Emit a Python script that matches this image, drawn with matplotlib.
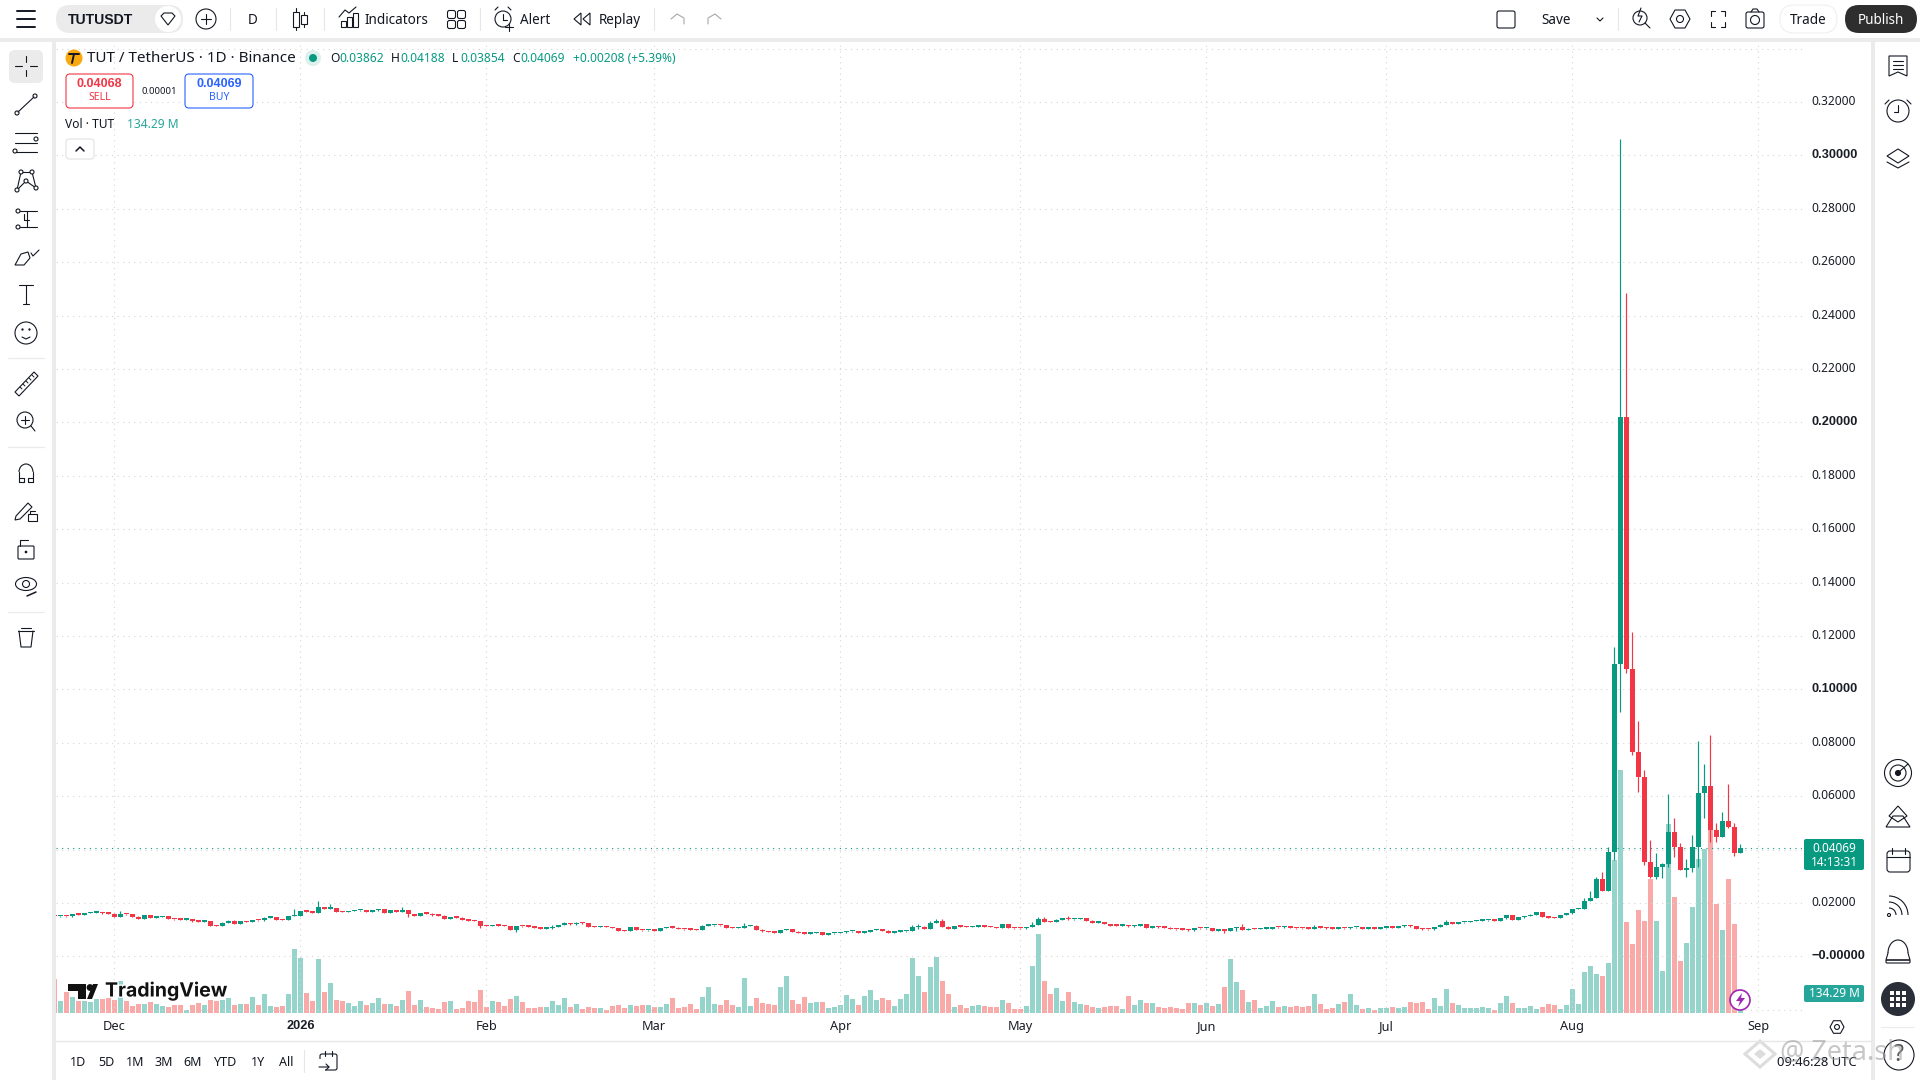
import numpy as np
import pandas as pd
import matplotlib
matplotlib.use("Agg")
import matplotlib.pyplot as plt
import matplotlib.dates as mdates
import matplotlib.patheffects as pe
from matplotlib.patches import Rectangle, Circle, FancyBboxPatch, Polygon, Arc, Ellipse
from matplotlib.transforms import ScaledTranslation

plt.rcParams['font.family'] = ['Noto Sans', 'DejaVu Sans']
BOLD = 'Liberation Sans'

# ---------------- data ----------------
dates = pd.date_range('2025-11-21', '2026-08-29', freq='D')

closes = [
 .01498,.01511,.01498,.01585,.01561,.01623,.01635,.01660,.01610,.01598,
 .01486,.01585,.01573,.01486,.01411,.01536,.01448,.01473,.01511,.01398,
 .01386,.01373,.01398,.01311,.01298,.01311,.01149,.01136,.01261,.01336,
 .01223,.01311,.01286,.01361,.01348,.01448,.01461,.01373,.01361,.01511,
 .01523,.01685,.01673,.01635,.01835,.01785,.01810,.01673,.01660,.01698,
 .01723,.01735,.01673,.01723,.01760,.01635,.01723,.01673,.01723,.01585,
 .01523,.01610,.01598,.01536,.01523,.01411,.01461,.01448,.01373,.01336,
 .01323,.01149,.01136,.01161,.01149,
 .01136,.00986,.01136,.01124,.01111,.01074,.01036,.01049,.01099,.01174,
 .01236,.01198,.01261,.01236,.01111,.01099,.01111,.01099,.01061,.00961,
 .00949,.01086,.00986,.00974,.00986,.00961,.01061,.01099,.01074,.01024,
 .01011,.00999,.00986,.01149,.01161,.01174,.01161,.01074,.01061,.01074,
 .01136,.01149,.00999,.00936,.00911,.00886,.00986,.01024,.00924,.00874,
 .00849,.00874,.00911,.00799,.00861,.00874,.00899,.00936,.00949,.00886,
 .00911,.00986,.00999,.00961,.00886,.00924,.00936,.00949,.01099,.01111,
 .01024,.01248,.01311,.01111,.01024,.01124,.01111,.01099,.01111,.01124,
 .01111,.01099,.01061,
 .01198,.01061,.01055,.01049,.01099,.01186,.01386,.01298,.01286,.01373,
 .01411,.01386,.01398,.01423,.01336,.01261,.01286,.01211,.01149,.01142,
 .01161,.01124,.01149,.01211,.01074,.01111,.01086,.01074,.01024,.01017,
 .00999,.00974,.01061,.01049,.01061,.00961,.00974,.00961,.01061,.01086,
 .00986,.01036,.01024,.01030,.01036,.01099,.01086,.01124,.01061,.01049,
 .01042,.01036,.01099,.01074,.01049,.01036,.01061,.01049,.01086,.01099,
 .01036,.01049,.01036,.01074,.01086,.01074,.01124,.01149,.01124,.01036,
 .01011,.01005,.01099,.01186,.01286,.01211,.01273,.01286,.01323,.01336,
 .01348,.01361,.01336,.01423,
 .01548,.01373,.01461,.01511,.01561,.01648,.01486,.01448,.01436,.01548,
 .01610,.01773,.01785,.02072,.02185,.02896,.02459,.03908,.10948,.20200,
 .10774,.07653,.06729,.03545,.02959,.03346,.03458,.04657,.04082,.03233,
 .03308,.04095,.06117,.06379,.04731,.04469,.05069,.04844,.03862,.04069,
]
volumes_m = [
 231,83,143,108,85,83,76,96,96,101,90,217,83,49,63,63,76,63,49,43,
 56,56,22,56,69,56,87,83,90,103,56,63,63,110,56,130,49,43,49,130,
 432,372,137,83,365,143,204,90,83,69,49,83,56,69,103,63,63,49,90,150,
 56,90,43,36,29,76,83,29,36,83,76,157,43,83,76,
 49,96,116,76,36,36,43,43,83,56,103,43,63,29,43,36,36,22,49,56,
 36,56,49,56,56,43,43,63,103,36,43,63,29,110,177,63,56,90,56,43,
 237,49,103,69,63,56,177,251,90,63,110,69,76,76,36,43,56,123,96,56,
 116,157,90,103,90,49,96,130,372,251,143,311,379,217,130,43,56,36,49,56,
 49,43,43,
 90,69,29,29,49,318,533,217,130,170,83,143,76,63,56,43,36,43,49,49,
 29,116,56,90,69,69,43,36,43,36,29,69,69,56,69,49,63,177,365,211,
 157,76,90,36,49,83,43,49,43,49,43,49,130,63,29,36,63,76,130,56,
 29,36,22,36,36,43,36,43,76,69,76,29,103,49,164,69,56,36,36,36,
 43,36,22,69,
 114,67,34,34,47,27,40,60,54,27,54,161,60,276,316,262,249,336,1028,1633,
 612,464,692,618,900,618,282,1270,780,349,470,712,1035,1102,1230,732,558,900,598,134.29,
]
# notable wick ends, keyed by day offset from 2026-01-01
high_marks = {-30:.01698,-1:.01760,3:.02072,5:.01947,17:.01835,36:.01136,42:.01174,44:.01286,
 68:.01211,74:.01248,102:.01174,103:.01211,105:.01323,106:.01398,107:.01398,
 122:.01286,123:.01473,124:.01473,128:.01510,157:.01211,169:.01174,191:.01361,
 214:.02172,215:.02447,216:.02984,217:.03146,218:.04107,219:.11573,220:.30610,221:.24850,
 222:.12135,223:.08814,224:.06979,225:.04357,226:.03858,227:.03483,228:.06080,229:.05181,
 230:.04232,231:.03645,232:.04544,233:.08065,234:.07203,235:.08289,236:.04981,237:.05406,
 238:.06454,239:.04981,240:.04188}
low_marks = {18:.01486,30:.01074,36:.00924,103:.01024,154:.00886,156:.00961,
 219:.03608,220:.09163,221:.10624,222:.07540,223:.06155,224:.03421,225:.02921,226:.02896,
 227:.02921,228:.03358,229:.03733,231:.02984,232:.03171,233:.03358,234:.05181,235:.04295,
 236:.04282,238:.04806,239:.03758,240:.03854}
price_ticks = [round(-0.02 + 0.02*i, 2) for i in range(19)]
month_starts = ['2025-12-01','2026-01-01','2026-02-01','2026-03-01','2026-04-01','2026-05-01',
                '2026-06-01','2026-07-01','2026-08-01','2026-09-01']
month_labels = ['Dec','2026','Feb','Mar','Apr','May','Jun','Jul','Aug','Sep']
last_price = 0.04069

assert len(closes) == len(dates) == len(volumes_m)

GREEN, RED = '#089981', '#F23645'
VGREEN, VRED = '#94D4CB', '#F9A9A7'
INK = '#131722'
W, H = 1920, 1080

# ---------------- figure and chart ----------------
fig = plt.figure(figsize=(19.2, 10.8), dpi=100, facecolor='white')
L, R, T, B = 56, 1802, 40, 1013.3
rect = [L/W, 1-B/H, (R-L)/W, (B-T)/H]
vax = fig.add_axes(rect, zorder=1, facecolor='white')
ax = fig.add_axes(rect, zorder=2, facecolor='none')

x = mdates.date2num(dates)
c = np.array(closes)
o = np.r_[c[0], c[:-1]]
o[0] = .01511
up = c >= o
day0 = mdates.date2num(pd.Timestamp('2026-01-01'))
hi = np.maximum(o, c) + 0.00015
lo = np.minimum(o, c) - 0.00015
for d, v in high_marks.items():
    hi[int(day0 + d - x[0])] = v
for d, v in low_marks.items():
    lo[int(day0 + d - x[0])] = v
col = np.where(up, GREEN, RED)

xlim = (day0 + (L-300.3)/6, day0 + (R-300.3)/6)
vax.bar(x, volumes_m, width=0.84, color=np.where(up, VGREEN, VRED), linewidth=0)
vax.set_xlim(*xlim)
vax.set_ylim(0, 6536)
vax.axis('off')

ax.vlines(x, lo, hi, colors=col, linewidth=0.85, zorder=3)
ax.bar(x, np.maximum(np.abs(c-o), 0.0005), bottom=np.minimum(o, c), width=0.84,
       color=col, linewidth=0, zorder=4)
ax.axhline(last_price, color=GREEN, lw=0.8, ls=(0, (1, 4)), zorder=2)

ax.set_xlim(*xlim)
ax.set_ylim((956.3-B)/2670, (956.3-T)/2670)
for s in ax.spines.values():
    s.set_visible(False)
ax.set_axisbelow(True)
ax.grid(True, color='#D6D6D6', lw=0.8, ls=(0, (1, 4)))
ax.yaxis.tick_right()
ax.set_yticks(price_ticks)
ylabels = []
for t in price_ticks:
    if t in (-0.02, 0.34):
        ylabels.append('')
    elif t == 0:
        ylabels.append('\u22120.00000')
    else:
        ylabels.append(f'{t:.5f}')
ax.set_yticklabels(ylabels, fontsize=8.6, color='#1a1d26')
ax.tick_params(axis='y', length=0, pad=6.5)
lift = ScaledTranslation(0, 2/100, fig.dpi_scale_trans)
for t, lab in zip(price_ticks, ax.get_yticklabels()):
    lab.set_transform(lab.get_transform() + lift)
    if t in (0, 0.10, 0.20, 0.30):
        lab.set_fontweight('bold')
        lab.set_fontfamily(BOLD)
        lab.set_fontsize(9.2)
ax.set_xticks(mdates.date2num(pd.to_datetime(month_starts)))
ax.set_xticklabels(month_labels, fontsize=9.2, color='#1a1d26')
ax.get_xticklabels()[1].set_fontweight('bold')
ax.get_xticklabels()[1].set_fontfamily(BOLD)
ax.tick_params(axis='x', length=0, pad=5)

# ---------------- interface overlay, in screen pixels ----------------
ui = fig.add_axes([0, 0, 1, 1], zorder=5, facecolor='none')
ui.set_xlim(0, W); ui.set_ylim(H, 0); ui.axis('off')

def px(s):
    return s*0.72
def txt(xp, yp, s, size=13, color=INK, ha='left', weight='normal', **kw):
    return ui.text(xp, yp+1, s, fontsize=px(size), color=color, ha=ha, va='center', fontweight=weight, **kw)
def line(xs, ys, lw=0.8, color=INK, **kw):
    ui.plot(xs, ys, color=color, lw=lw, solid_capstyle='round', zorder=5, **kw)
def box(x0, y0, w, h, fc='white', ec='none', lw=0.8, r=0, z=1):
    if r:
        p = FancyBboxPatch((x0+r, y0+r), w-2*r, h-2*r, boxstyle=f'round,pad={r},rounding_size={r}',
                           fc=fc, ec=ec, lw=lw, zorder=z)
    else:
        p = Rectangle((x0, y0), w, h, fc=fc, ec=ec, lw=lw, zorder=z)
    ui.add_patch(p)
def circ(xp, yp, r, fc='none', ec=INK, lw=0.8, z=3):
    ui.add_patch(Circle((xp, yp), r, fc=fc, ec=ec, lw=lw, zorder=z))
def poly(pts, fc='none', ec=INK, lw=0.8, z=3):
    ui.add_patch(Polygon(pts, closed=True, fc=fc, ec=ec, lw=lw, zorder=z))
def hexagon(cx, cy, r):
    poly([(cx-r, cy), (cx-r/2, cy-r*.9), (cx+r/2, cy-r*.9), (cx+r, cy), (cx+r/2, cy+r*.9), (cx-r/2, cy+r*.9)])
    circ(cx, cy, r*.35)

GRAY = '#EBEBEB'
box(0, 38, W, 4, fc=GRAY)
box(52, 38, 4, H-38, fc=GRAY)
box(1871, 38, 4, H-38, fc=GRAY)
line([56, 1871], [1041, 1041], color='#E6E6E6', lw=1.0)

# top bar
for yy in (11, 19, 27):
    line([17, 35], [yy, yy], lw=1.4)
box(56, 5, 127, 28, fc='#EBEBEB', r=14)
txt(68, 19, 'TUTUSDT', 14, weight='bold', family=BOLD, zorder=4)
circ(168, 19, 13, fc='white', ec='none')
poly([(161, 16), (164, 13), (172, 13), (175, 16), (168, 25)])
circ(206, 19, 10)
line([201, 211], [19, 19]); line([206, 206], [14, 24])
for sx in (230, 276, 324, 480, 654, 1618):
    line([sx, sx], [8, 30], color='#E6E6E6')
txt(253, 19, 'D', 13.5, ha='center')
line([296, 296], [8, 30]); box(293, 12, 6, 15, fc='white', ec=INK, z=6)
line([304, 304], [12, 27]); box(301, 15, 6, 9, fc='white', ec=INK, z=6)
for bx, bh in ((341, 6), (347, 10), (353, 14)):
    box(bx, 27-bh, 5, bh, ec=INK, z=3)
line([339, 345, 349, 356], [17, 10, 13, 7])
txt(396, 19, 'Indicators', 13.5, ha='center')
for gx in (451, 461):
    for gy in (14, 24):
        box(gx-3.5, gy-3.5, 8, 8, ec=INK, r=2, z=3)
circ(503, 19, 8)
line([503, 503, 507], [14, 20, 20]); line([495, 498], [10, 7]); line([511, 508], [10, 7])
line([505, 513], [27, 27]); line([509, 509], [23, 31])
txt(535, 19, 'Alert', 13.5, ha='center')
poly([(574, 19), (581, 13), (581, 25)]); poly([(583, 19), (590, 13), (590, 25)])
txt(620, 19, 'Replay', 13.5, ha='center')
line([671, 677, 684, 684], [19, 14, 18, 24], color='#A8A8A8')
line([721, 715, 708, 708], [19, 14, 18, 24], color='#A8A8A8')
box(1497, 11, 18, 17, ec=INK, r=2, z=3)
txt(1556, 19, 'Save', 13.5, ha='center')
line([1597, 1600, 1603], [18, 21, 18])
circ(1640, 18, 7); line([1645, 1650], [23, 28]); line([1641, 1638, 1642, 1639], [8, 16, 16, 22])
hexagon(1680, 19, 10)
for sx, sy in ((-1, -1), (1, -1), (-1, 1), (1, 1)):
    line([1718+sx*7, 1718+sx*7, 1718+sx*3], [19+sy*3, 19+sy*8, 19+sy*8])
box(1746, 12, 18, 16, ec=INK, r=2, z=3); circ(1755, 20, 4.5); line([1751, 1753, 1757, 1759], [12, 9, 9, 12])
box(1780, 5, 57, 28, fc='white', ec='#EFEFEF', r=14)
txt(1808, 19, 'Trade', 13.5, ha='center')
box(1845, 5, 72, 28, fc='#2E2E2E', r=14)
txt(1881, 19, 'Publish', 13.5, color='white', ha='center', zorder=4)

# legend
circ(74, 58, 8.5, fc='#F9A90F', ec='none')
line([69, 79], [54, 54], lw=1.4); line([74, 72], [54, 63], lw=1.4)
txt(87, 58, 'TUT / TetherUS \u00b7 1D \u00b7 Binance', 15.2)
circ(313, 58, 8, fc='#DDF0EC', ec='none'); circ(313, 58, 4, fc=GREEN, ec='none')
for xl, lab, xv, val in ((330, 'O', 339, '0.03862'), (391, 'H', 400, '0.04188'),
                         (452, 'L', 460, '0.03854'), (512, 'C', 520, '0.04069')):
    txt(xl, 58, lab, 12)
    txt(xv, 58, val, 12, color=GREEN)
txt(573, 58, '+0.00208 (+5.39%)', 12, color=GREEN)
box(66, 74, 67, 34, ec=RED, r=4)
txt(99.5, 83, '0.04068', 12.5, color=RED, ha='center', weight='bold', family=BOLD)
txt(99.5, 97, 'SELL', 10.5, color=RED, ha='center')
txt(159, 90, '0.00001', 9.5, ha='center')
box(185, 74, 68, 34, ec='#2962FF', r=4)
txt(219, 83, '0.04069', 12.5, color='#2962FF', ha='center', weight='bold', family=BOLD)
txt(219, 97, 'BUY', 10.5, color='#2962FF', ha='center')
txt(65, 124, 'Vol \u00b7 TUT', 12)
txt(127, 124, '134.29 M', 12, color='#26A69A')
box(66, 139, 28, 20, ec='#E2E2E2', r=3)
line([76, 80, 84], [151, 147, 151], lw=1.1)

# price tags
box(1804, 839, 60, 31, fc=GREEN, r=2)
txt(1834, 847, '0.04069', 11.8, color='white', ha='center', zorder=4)
txt(1834, 861, '14:13:31', 11.8, color='white', ha='center', zorder=4)
box(1804, 985, 60, 17, fc='#26A69A', r=2)
txt(1834, 992.5, '134.29 M', 11.8, color='white', ha='center', zorder=4)
hexagon(1837, 1027, 7)
circ(1740, 1000, 10, fc='white', ec='#9C27B0', lw=1.2)
poly([(1742, 993), (1736, 1001), (1740, 1001), (1738, 1007), (1745, 998), (1741, 998)], fc='#9C27B0', ec='none')

# TradingView logo
halo = [pe.withStroke(linewidth=2, foreground='white')]
poly([(68, 984), (86, 984), (86, 999), (78, 999), (78, 991), (68, 991)], fc='#111111', ec='none')
circ(90, 987.5, 3.4, fc='#111111', ec='none')
poly([(87, 999), (93, 984), (98, 984), (92, 999)], fc='#111111', ec='none')
txt(105, 990, 'TradingView', 19.5, color='#111111', weight='bold', family='Inter',
    path_effects=halo, zorder=4)

# range bar
for xr, lab in ((78, '1D'), (106, '5D'), (135, '1M'), (164, '3M'), (193, '6M'),
                (226, 'YTD'), (258, '1Y'), (286, 'All')):
    txt(xr, 1061, lab, 12.5, ha='center')
line([304, 304], [1050, 1072], color='#E6E6E6')
box(320, 1054, 17, 16, ec=INK, r=2, z=3)
line([325, 325], [1051, 1056]); line([332, 332], [1051, 1056])
box(317, 1059, 8, 12, fc='white', z=3)
line([319, 329, 326], [1067, 1067, 1064]); line([329, 326], [1067, 1070])

# left toolbar
box(9, 50, 34, 33, fc='#EBEBEB', r=6, z=1)
line([26, 26], [56, 62]); line([26, 26], [70, 76]); line([15, 22], [66, 66]); line([30, 37], [66, 66])
circ(35, 96, 2); circ(17, 113, 2); line([18, 34], [112, 97])
for yy in (133, 143, 152):
    line([15, 37], [yy, yy])
circ(36, 139, 2, fc='white', z=6); circ(15, 151, 2, fc='white', z=6)
pts = [(17, 190), (21, 172), (32, 172), (36, 188), (26, 181)]
for (ax_, ay), (bx, by) in zip(pts, pts[1:]+pts[:1]):
    line([ax_, bx], [ay, by])
for p_ in pts:
    circ(p_[0], p_[1], 2, fc='white', z=6)
line([16, 37], [211, 211]); line([18, 37], [227, 227]); line([27, 27], [211, 227])
circ(18, 211, 2, fc='white', z=6); circ(18, 227, 2, fc='white', z=6)
line([24, 24, 29], [214, 220, 220])
poly([(15, 265), (21, 254), (28, 252), (30, 258), (24, 265)])
line([31, 33, 39], [253, 256, 250])
line([19, 33], [285, 285]); line([26, 26], [285, 304]); line([23, 29], [304, 304])
circ(26, 333, 11); line([22, 26, 30], [337, 339, 337])
circ(22.5, 329.5, .6, fc=INK); circ(29.5, 329.5, .6, fc=INK)
for sy in (358, 447, 612):
    line([8, 44], [sy, sy], color='#EBEBEB', lw=0.9)
poly([(15, 392), (34, 372), (38, 376), (19, 396)])
for k in range(5):
    line([20+k*3, 22+k*3], [387-k*3, 389-k*3], lw=.7)
circ(25, 420, 8); line([21, 29], [420, 420]); line([25, 25], [416, 424]); line([31, 35], [426, 431])
line([19, 19], [482, 472]); line([33, 33], [482, 472])
ui.add_patch(Arc((26, 472), 14, 16, theta1=180, theta2=360, ec=INK, lw=.8, zorder=3))
line([19, 24, 24], [482, 482, 478]); line([28, 28, 33], [478, 482, 482]); line([19, 24], [478, 478]); line([28, 33], [478, 478])
poly([(16, 516), (28, 503), (32, 507), (20, 519), (15, 520)])
box(28, 514, 9, 7, ec=INK, z=3); line([30, 30, 35], [514, 511, 511])
box(18, 546, 16, 13, ec=INK, r=1, z=3); line([20, 20, 28], [546, 540, 540]); circ(26, 552, .8, fc=INK)
ui.add_patch(Ellipse((26, 584), 21, 13, fc='none', ec=INK, lw=.8, zorder=3))
circ(26, 584, 3.5); line([27, 36], [596, 592], lw=1.1)
line([18, 34], [631, 631]); line([21, 31], [628, 628]); line([19, 21, 31, 33], [631, 647, 647, 631])

# right toolbar
poly([(1889, 56), (1907, 56), (1907, 76), (1898, 72), (1889, 76)])
for yy in (61, 65, 69):
    line([1893, 1903], [yy, yy])
circ(1898, 111, 11); line([1898, 1898, 1894], [105, 112, 112])
line([1885, 1889], [104, 100]); line([1911, 1907], [104, 100])
poly([(1887, 156), (1898, 149), (1909, 156), (1898, 163)]); line([1887, 1898, 1909], [162, 168, 162])
circ(1898, 773, 13.5); circ(1898, 773, 8); circ(1898, 773, 2.5, fc=INK); line([1899, 1908], [772, 764])
poly([(1898, 806), (1907, 816), (1898, 822), (1889, 816)]); poly([(1886, 827), (1893, 816), (1903, 816), (1910, 827)])
box(1887, 851, 23, 21, ec=INK, r=3, z=3); line([1887, 1910], [857, 857]); line([1892, 1892], [848, 854]); line([1905, 1905], [848, 854])
circ(1889, 915, 1.5)
for r_ in (7, 13, 19):
    ui.add_patch(Arc((1889, 915), 2*r_, 2*r_, theta1=-90, theta2=0, ec=INK, lw=.8, zorder=3))
ui.add_patch(Arc((1898, 953), 20, 26, theta1=180, theta2=360, ec=INK, lw=.8, zorder=3))
line([1888, 1886, 1910, 1908], [953, 960, 960, 953]); box(1886, 960, 24, 3, ec=INK, r=1, z=3)
circ(1898, 999, 17, fc='#2A2E39', ec='none')
for gx in (-6, 0, 6):
    for gy in (-6, 0, 6):
        box(1898+gx-2, 999+gy-2, 4, 4, fc='white', z=4)
line([1881, 1914], [1027, 1027], color='#EBEBEB')
circ(1899, 1055, 15)
txt(1899, 1054, '?', 23, ha='center', color='#555555', zorder=4)

# bottom right stamp and watermark
txt(1777, 1061, '09:46:28 UTC', 13, zorder=4)
poly([(1760, 1041), (1775, 1054), (1760, 1067), (1745, 1054)], fc='none', ec='#DDDDDD', lw=2.2)
poly([(1760, 1049), (1766, 1054), (1760, 1059), (1754, 1054)], fc='#DDDDDD', ec='none')
txt(1780, 1052, '@ Zeta.sh', 27, color='#9A9A9A', alpha=.55, zorder=5)

fig.savefig('out.png', dpi=100, facecolor='white')
